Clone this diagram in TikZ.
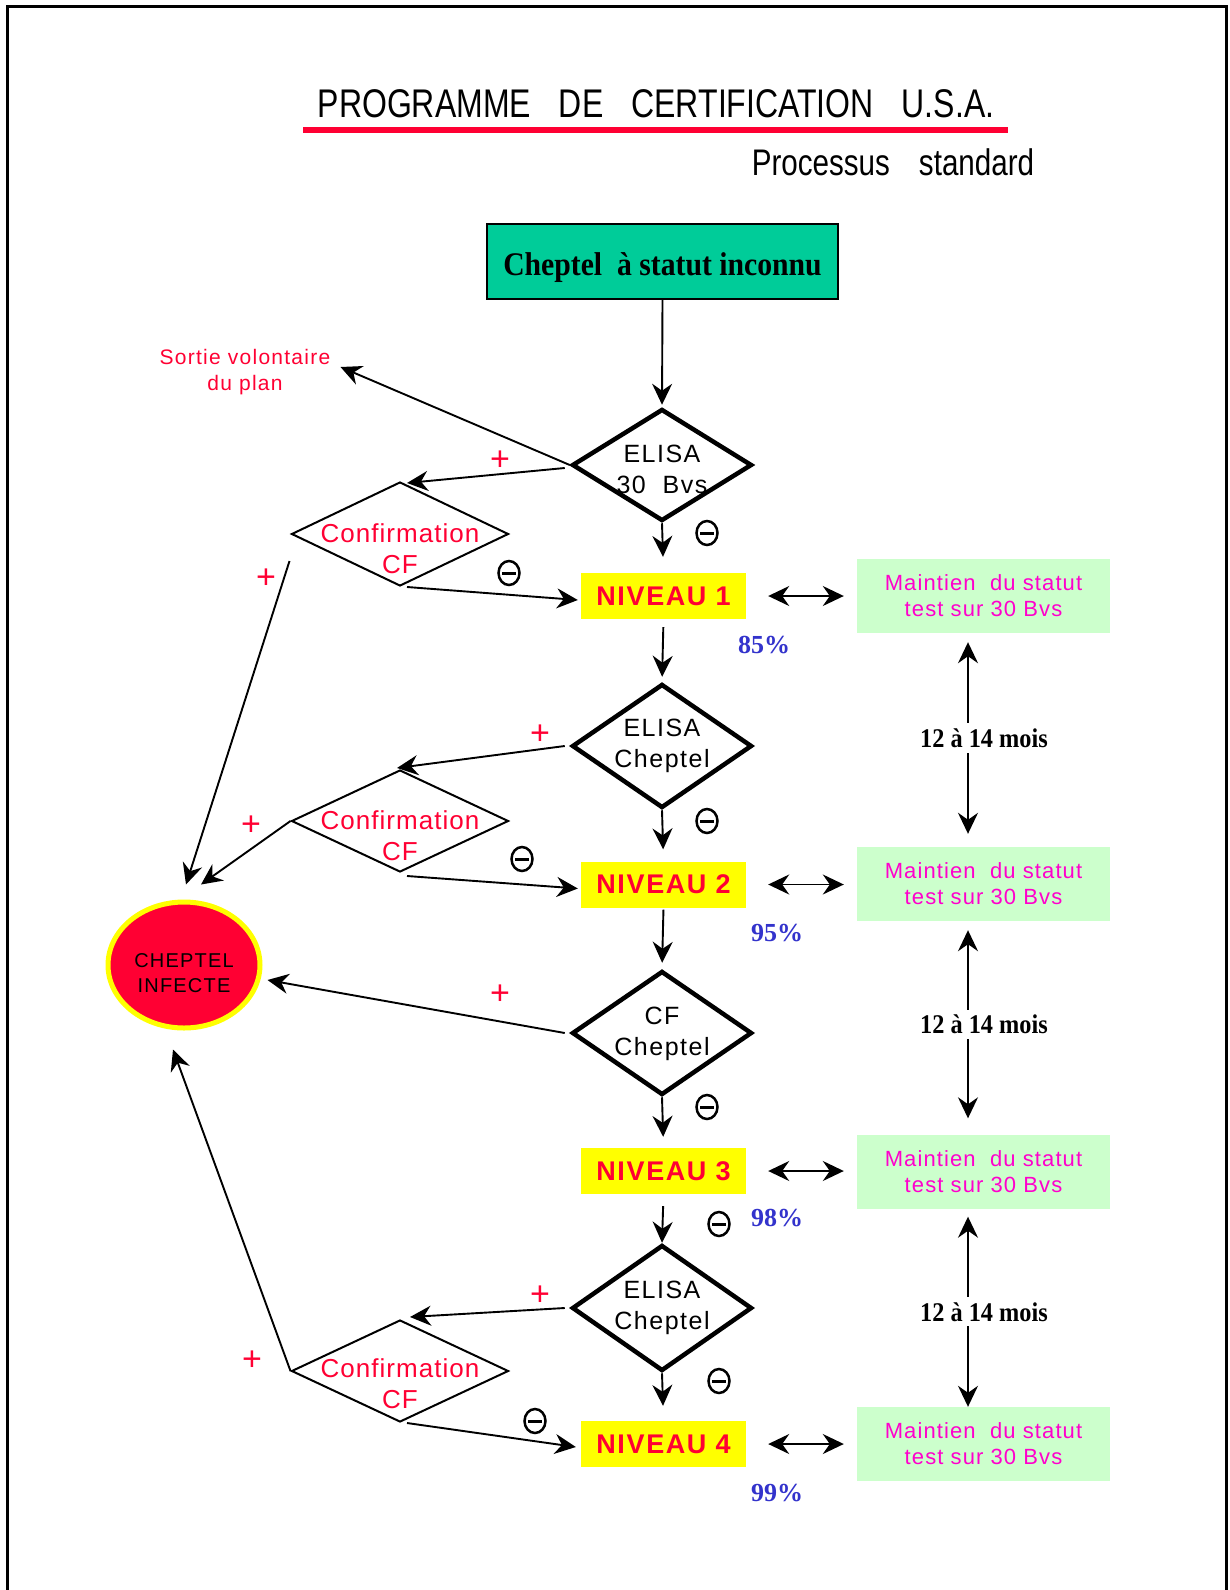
\documentclass[tikz,border=0pt]{standalone}
\usepackage{fontspec}
\setmainfont{Liberation Serif}
\newfontfamily\tfont[FakeStretch=0.8]{Liberation Sans}
\newfontfamily\sfont[LetterSpace=6]{Liberation Sans}
\newfontfamily\cfont[FakeStretch=0.9]{Liberation Serif}
\usetikzlibrary{shapes.geometric,arrows.meta,calc}
\definecolor{redc}{RGB}{255,0,51}
\definecolor{yellowc}{RGB}{255,255,0}
\definecolor{lgreen}{RGB}{204,255,204}
\definecolor{startg}{RGB}{0,204,153}
\definecolor{magc}{RGB}{255,0,204}
\definecolor{bluec}{RGB}{51,51,204}
\tikzset{
  tip/.tip={Stealth[length=21pt,width=20pt,inset=7pt]},
  arr/.style={-tip, line width=1.9pt},
  darr/.style={tip-tip, line width=1.9pt},
  bigd/.style={diamond, draw=black, line width=4.5pt, inner sep=0pt, minimum width=180pt},
  cfd/.style={diamond, draw=black, line width=2pt, inner sep=0pt, minimum width=217pt, minimum height=104pt},
  dtext/.style={font=\sfont\fontsize{25}{31}\selectfont, align=center, inner sep=0pt},
  cftext/.style={font=\sfont\fontsize{26}{31}\selectfont\addfontfeature{LetterSpace=4}, text=redc, align=center, inner sep=0pt},
  niv/.style={rectangle, fill=yellowc, minimum width=165pt, minimum height=46pt, font=\sfont\bfseries\fontsize{27}{30}\selectfont, text=redc, inner sep=0pt},
  maint/.style={rectangle, fill=lgreen, minimum width=253pt, minimum height=74pt, font=\sfont\fontsize{22}{26}\selectfont\addfontfeature{LetterSpace=5}, text=magc, align=center, inner sep=0pt},
  pct/.style={font=\bfseries\fontsize{26}{26}\selectfont, text=bluec, inner sep=0pt},
  mois/.style={font=\cfont\bfseries\fontsize{27}{27}\selectfont, fill=white, inner sep=5pt},
  plus/.style={font=\sfont\fontsize{34}{34}\selectfont, text=redc, inner sep=0pt},
  minus/.style={ellipse, draw=black, line width=2.5pt, minimum width=21pt, minimum height=24pt, inner sep=0pt,
    path picture={\draw[line width=3pt] ([xshift=3.5pt]path picture bounding box.west) -- ([xshift=-3.5pt]path picture bounding box.east);}},
}
\begin{document}
\begin{tikzpicture}[x=1pt,y=-1pt]
\useasboundingbox (0,0) rectangle (1230,1590);
\fill[white] (0,0) rectangle (1230,1590);
% frame
\draw[line width=3pt] (7,1600) -- (7,6) -- (1226,6) -- (1226,1600);
% title
\node[font=\tfont\fontsize{40}{42}\selectfont, inner sep=0pt] (title) at (656,104)
  {PROGRAMME\hspace{28pt}DE\hspace{28pt}CERTIFICATION\hspace{28pt}U.S.A.};
\draw[redc, line width=6pt] (303,130) -- (1008,130);
\node[font=\tfont\fontsize{37}{39}\selectfont, inner sep=0pt] (sub) at (893,162)
  {Processus\hspace{29pt}standard};
% start box
\node[rectangle, draw=black, line width=2pt, fill=startg, minimum width=351pt, minimum height=75pt,
  text height=32pt, text depth=5pt,
  font=\cfont\bfseries\fontsize{33}{36}\selectfont] (start) at (662.5,261.5) {Cheptel\ \ à statut inconnu};
% main diamonds
\node[bigd, minimum height=112pt] (d1) at (662,465) {};
\node[dtext] (d1t) at (662,469.5) {ELISA\\30\ \ Bvs};
\node[bigd, minimum height=124pt] (d2) at (662,746) {};
\node[dtext] (d2t) at (662,746) {ELISA\\Cheptel};
\node[bigd, minimum height=124pt] (d3) at (662,1033) {};
\node[dtext] (d3t) at (662,1034) {CF\\Cheptel};
\node[bigd, minimum height=126pt] (d4) at (662,1308) {};
\node[dtext] (d4t) at (662,1307.5) {ELISA\\Cheptel};
% confirmation diamonds
\node[cfd] (c1) at (400,534) {};
\node[cftext] (c1t) at (400,548.5) {Confirmation\\CF};
\node[cfd, minimum height=102pt] (c2) at (400,821) {};
\node[cftext] (c2t) at (400,835.5) {Confirmation\\CF};
\node[cfd, minimum height=102pt] (c3) at (400,1371) {};
\node[cftext] (c3t) at (400,1383.5) {Confirmation\\CF};
% niveaux
\node[niv] (n1) at (663.5,596) {NIVEAU 1};
\node[niv] (n2) at (663.5,884.5) {NIVEAU 2};
\node[niv] (n3) at (663.5,1171) {NIVEAU 3};
\node[niv] (n4) at (663.5,1444) {NIVEAU 4};
% maintien
\node[maint] (m1) at (983.5,596) {Maintien\ \ du statut\\test sur 30 Bvs};
\node[maint] (m2) at (983.5,884) {Maintien\ \ du statut\\test sur 30 Bvs};
\node[maint] (m3) at (983.5,1171.5) {Maintien\ \ du statut\\test sur 30 Bvs};
\node[maint] (m4) at (983.5,1444) {Maintien\ \ du statut\\test sur 30 Bvs};
% infected herd
\node[ellipse, fill=redc, draw=yellowc, line width=5pt, minimum width=152pt, minimum height=126pt,
  inner sep=0pt] (inf) at (184,965) {};
\node[align=center, font=\sfont\fontsize{20}{25}\selectfont, inner sep=0pt] (inft) at (184,973) {CHEPTEL\\INFECTE};
% sortie
\node[font=\sfont\fontsize{21}{26}\selectfont, text=redc, align=center, inner sep=0pt] (sortie) at (245,372)
  {Sortie volontaire\\du plan};
% percentages
\node[pct] (p1) at (764,645) {85\%};
\node[pct] (p2) at (777,933) {95\%};
\node[pct] (p3) at (777,1218) {98\%};
\node[pct] (p4) at (777,1493) {99\%};
% plus signs
\node[plus] (pl1) at (500,461) {+};
\node[plus] (pl2) at (540,735) {+};
\node[plus] (pl3) at (266,579) {+};
\node[plus] (pl4) at (251,826) {+};
\node[plus] (pl5) at (500,995) {+};
\node[plus] (pl6) at (540,1296) {+};
\node[plus] (pl7) at (252,1361) {+};
% minus signs
\node[minus] (mi1) at (707,533) {};
\node[minus] (mi2) at (509,573) {};
\node[minus] (mi3) at (707,821) {};
\node[minus] (mi4) at (522,859) {};
\node[minus] (mi5) at (707,1107) {};
\node[minus] (mi6) at (719,1224) {};
\node[minus] (mi7) at (719,1381) {};
\node[minus] (mi8) at (535,1421) {};
% connectors
\draw[arr, shorten >=2pt] (start.south) -- (d1.north);
\draw[arr] (d1.west) -- ($(sortie.east)+(10,-5)$);
\draw[arr] ($(d1.west)+(-5,3)$) -- ($(c1.north)+(7,2)$);
\draw[arr, shorten >=16pt] (d1.south) -- (n1.north);
\draw[arr] ($(c1.south)+(7,0)$) -- ($(n1.west)+(-3,4)$);
\draw[arr] ($(c1.west)+(-1,27)$) -- ($(inf.north)+(2,-15)$);
\draw[arr, shorten <=8pt, shorten >=5pt] (n1.south) -- (d2.north);
\draw[arr] ($(d2.west)+(-5,0)$) -- ($(c2.north)+(-3,-1)$);
\draw[arr] (c2.west) -- ($(inf.north)+(17,-15)$);
\draw[arr, shorten >=12pt] (d2.south) -- (n2.north);
\draw[arr] ($(c2.south)+(7,3)$) -- ($(n2.west)+(-3,4)$);
\draw[arr, shorten <=2pt, shorten >=6pt] (n2.south) -- (d3.north);
\draw[arr] ($(d3.west)+(-5,0)$) -- ($(inf.east)+(5,15)$);
\draw[arr, shorten >=11pt] (d3.south) -- (n3.north);
\draw[arr, shorten <=12pt] (n3.south) -- (d4.north);
\draw[arr] ($(d4.west)+(-5,0)$) -- ($(c3.north)+(10,-2)$);
\draw[arr] (c3.west) -- ($(inf.south)+(-11,19)$);
\draw[arr, shorten >=15pt] (d4.south) -- (n4.north);
\draw[arr] ($(c3.south)+(7,0)$) -- ($(n4.west)+(-5,3)$);
% niveau <-> maintien
\draw[darr, shorten <=22pt, shorten >=13pt] (n1.east) -- (m1.west);
\draw[darr, shorten <=22pt, shorten >=13pt] (n2.east) -- (m2.west |- n2.east);
\draw[darr, shorten <=22pt, shorten >=13pt] (n3.east) -- (m3.west |- n3.east);
\draw[darr, shorten <=22pt, shorten >=13pt] (n4.east) -- (m4.west);
% maintien <-> maintien
\draw[darr] ($(m1.south)+(-15.5,9)$) -- node[mois, xshift=16pt] (t1) {12 à 14 mois} ($(m2.north)+(-15.5,-13)$);
\draw[darr] ($(m2.south)+(-15.5,9)$) -- node[mois, xshift=16pt] (t2) {12 à 14 mois} ($(m3.north)+(-15.5,-16)$);
\draw[darr] ($(m3.south)+(-15.5,8)$) -- node[mois, xshift=16pt] (t3) {12 à 14 mois} ($(m4.north)+(-15.5,0)$);
\end{tikzpicture}
\end{document}
